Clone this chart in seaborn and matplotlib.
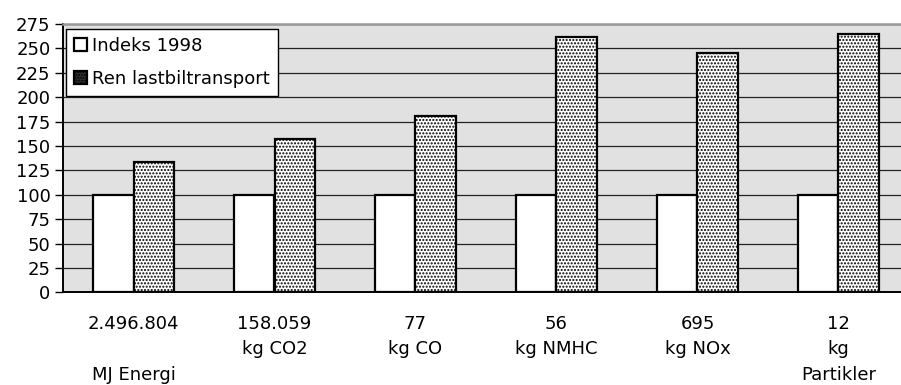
import matplotlib
matplotlib.use("Agg")
import matplotlib.pyplot as plt
import seaborn as sns
import pandas as pd
from matplotlib.patches import Patch

categories = ["2.496.804\n\nMJ Energi", "158.059\nkg CO2", "77\nkg CO",
              "56\nkg NMHC", "695\nkg NOx", "12\nkg\nPartikler"]
series_names = ["Indeks 1998", "Ren lastbiltransport"]
indeks_1998 = [100, 100, 100, 100, 100, 100]
ren_lastbil = [134, 157, 181, 262, 245, 265]
y_ticks = list(range(0, 276, 25))

df = pd.DataFrame({
    "cat": categories * 2,
    "serie": [series_names[0]] * len(categories) + [series_names[1]] * len(categories),
    "val": indeks_1998 + ren_lastbil,
})

sns.set_theme(style="white")
plt.rcParams["font.family"] = ["DejaVu Sans"]
plt.rcParams["text.color"] = "black"
plt.rcParams["xtick.color"] = "black"
plt.rcParams["ytick.color"] = "black"
plt.rcParams["xtick.labelcolor"] = "black"
plt.rcParams["ytick.labelcolor"] = "black"
plt.rcParams["hatch.linewidth"] = 1.0
plt.rcParams["hatch.color"] = "black"

FS = 13

fig = plt.figure(figsize=(9.01, 3.85), dpi=100)
ax = fig.add_axes([63 / 901, (385 - 292.3) / 385, 846 / 901, 268.3 / 385])
ax.set_facecolor("#e1e1e1")

sns.barplot(data=df, x="cat", y="val", hue="serie", order=categories,
            hue_order=series_names, palette=["white", "white"], width=0.578,
            edgecolor="black", linewidth=1.6, saturation=1, ax=ax, legend=False,
            zorder=3)
for p in ax.containers[1]:
    p.set_hatch(".....")

ax.set_xlim(-0.5, len(categories) - 0.5)
ax.set_ylim(0, 275)
ax.set_yticks(y_ticks)
ax.set_yticklabels([str(v) for v in y_ticks], fontsize=FS, color="black")
ax.yaxis.grid(True, color="#222222", linewidth=0.9, zorder=1)
ax.set_axisbelow(True)
ax.set_xlabel("")
ax.set_ylabel("")

ax.set_xticks(range(len(categories)))
ax.set_xticklabels(categories, fontsize=FS, linespacing=1.55, va="top", color="black")
ax.tick_params(axis="x", which="major", length=0, pad=16)
ax.set_xticks([i + 0.5 for i in range(len(categories) - 1)], minor=True)
ax.tick_params(axis="x", which="minor", direction="inout", length=12, width=1, color="#333333")
ax.tick_params(axis="y", direction="out", length=6, width=1, color="black", pad=3, left=True)

for s in ["left", "bottom"]:
    ax.spines[s].set_color("black")
    ax.spines[s].set_linewidth(1.4)
ax.spines["top"].set_color("#999999")
ax.spines["top"].set_linewidth(1.8)
ax.spines["right"].set_visible(False)

handles = [Patch(facecolor="white", edgecolor="black", linewidth=1.6),
           Patch(facecolor="black", edgecolor="black", linewidth=1.6)]
leg = ax.legend(handles, series_names, loc="upper left", bbox_to_anchor=(0.0035, 0.983),
                fontsize=FS, frameon=True, fancybox=False, framealpha=1,
                edgecolor="black", handlelength=0.7, handleheight=0.7,
                handletextpad=0.3, labelspacing=0.85, borderpad=0.45,
                borderaxespad=0)
leg.get_frame().set_linewidth(1.0)
leg.set_zorder(5)
# hatched legend key: dark square with light dots, as in the reference
leg.legend_handles[1].set_facecolor("#303030")
leg.legend_handles[1].set_hatch("......")
leg.legend_handles[1].set_edgecolor("black")

fig.savefig("out.png", dpi=100)
